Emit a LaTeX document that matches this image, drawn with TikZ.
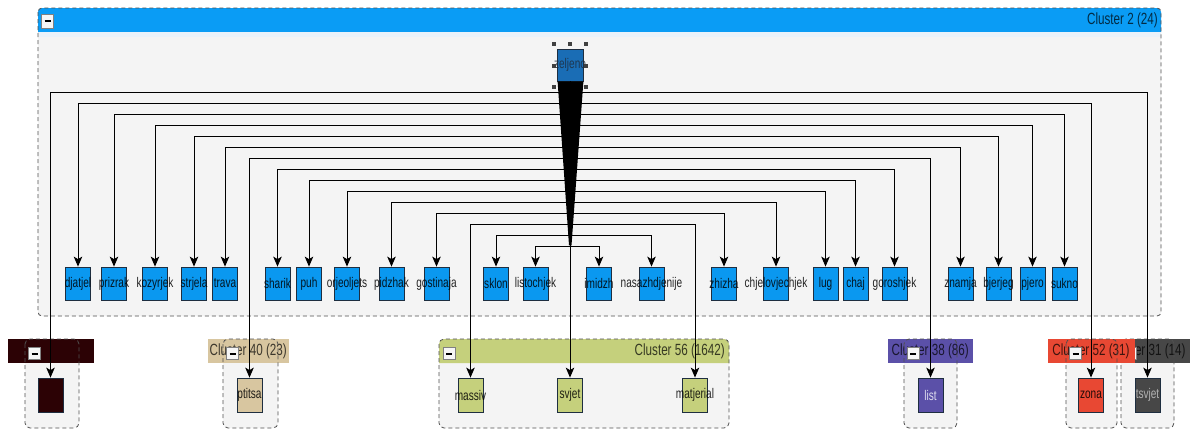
\documentclass[tikz,border=0pt]{standalone}
\usepackage{fontspec}
\setmainfont{Liberation Sans}
\newfontfamily\narrowfont[FakeStretch=0.72]{Liberation Sans}
\usetikzlibrary{arrows.meta,calc}
\definecolor{nodeblue}{HTML}{0A98F0}
\definecolor{selblue}{HTML}{1A6DB5}
\definecolor{headblue}{HTML}{0A9CF5}
\definecolor{paleband}{HTML}{EAF2FA}
\definecolor{clbg}{HTML}{F4F4F4}
\definecolor{clborder}{HTML}{505050}
\definecolor{nborder}{HTML}{1E2E40}
\definecolor{maroon}{HTML}{2C0205}
\definecolor{tan}{HTML}{D8C6A0}
\definecolor{olive}{HTML}{C5D07C}
\definecolor{purp}{HTML}{5B50A8}
\definecolor{redc}{HTML}{E84833}
\definecolor{darkg}{HTML}{474747}
\tikzset{
  boxnode/.style={draw=nborder, line width=0.8pt, minimum width=25pt, minimum height=33pt, inner sep=0pt, fill=nodeblue},
  lbl/.style={font=\narrowfont\fontsize{14}{14}\selectfont, text=black, text opacity=0.85, inner sep=0pt},
  ttl/.style={font=\narrowfont\fontsize{16.2}{16.2}\selectfont, text=black, text opacity=0.72, inner sep=0pt},
  hdr/.style={minimum height=24pt, inner sep=0pt, font=\narrowfont\fontsize{16.2}{16.2}\selectfont, text=black, text opacity=0.72},
  clbox/.style={draw=clborder, line width=0.8pt, dash pattern=on 4pt off 3pt, rounded corners=5pt},
  btn/.style={draw=gray, fill=white!93!gray, line width=0.6pt, minimum width=12pt, minimum height=12pt, inner sep=0pt},
  edge/.style={draw=black, line width=1pt, -{Stealth[length=10pt,width=8.5pt,inset=2.5pt]}},
  handle/.style={fill=black!75}
}
\newcommand{\minusbar}{\rule{6pt}{2pt}}
\begin{document}
\begin{tikzpicture}[x=1pt,y=-1pt]
\useasboundingbox[fill=white] (0,0) rectangle (1199,429);

% ---------- main cluster 2 ----------
\fill[clbg, rounded corners=4pt] (38,8) rectangle (1161,316);
\fill[headblue] (38,32) [rounded corners=4pt] -- (38,8) -- (1161,8) [sharp corners] -- (1161,32) -- cycle;
\fill[paleband] (38.5,32) rectangle (1160.5,37);
\draw[clbox, rounded corners=4pt] (38,8) rectangle (1161,316);
\node[ttl, anchor=east] (t2) at (1158,20) {Cluster 2 (24)};
\node[btn, minimum height=14pt] (b2) at (47.5,21) {\minusbar};

% ---------- bottom clusters ----------
% cluster (maroon)
\fill[clbg, rounded corners=5pt] (25,339) rectangle (79,428);
\node[hdr, fill=maroon, minimum width=86pt] (h1) at (51,351) {};
\draw[clbox] (25,339) rectangle (79,428);
\node[btn] (b1) at (34.5,353.5) {\minusbar};

% cluster 40
\fill[clbg, rounded corners=5pt] (223,339) rectangle (278,428);
\node[hdr, fill=tan, minimum width=81pt] (h40) at (248.2,351) {Cluster 40 (23)};
\draw[clbox] (223,339) rectangle (278,428);
\node[btn] (b40) at (232.7,353.5) {\minusbar};

% cluster 56
\fill[clbg, rounded corners=5pt] (439,339) rectangle (729,428);
\fill[olive] (439,363) [rounded corners=5pt] -- (439,339) -- (729,339) [sharp corners] -- (729,363) -- cycle;
\node[ttl, anchor=east] (t56) at (725,351) {Cluster 56 (1642)};
\draw[clbox] (439,339) rectangle (729,428);
\node[btn] (b56) at (449.3,353.5) {\minusbar};

% cluster 38
\fill[clbg, rounded corners=5pt] (904,339) rectangle (957,428);
\node[hdr, fill=purp, minimum width=85pt] (h38) at (930.2,351) {Cluster 38 (86)};
\draw[clbox] (904,339) rectangle (957,428);
\node[btn] (b38) at (913,353.5) {\minusbar};

% cluster 31
\fill[clbg, rounded corners=5pt] (1121,339) rectangle (1174,428);
\node[hdr, fill=darkg, minimum width=85pt] (h31) at (1147,351) {Cluster 31 (14)};
\draw[clbox] (1121,339) rectangle (1174,428);
\node[btn] (b31) at (1130.5,353.5) {\minusbar};

% cluster 52
\fill[clbg, rounded corners=5pt] (1066,339) rectangle (1117,428);
\node[hdr, fill=redc, minimum width=87pt] (h52) at (1091,351) {Cluster 52 (31)};
\draw[clbox] (1066,339) rectangle (1117,428);
\node[btn] (b52) at (1075.5,353.5) {\minusbar};

% ---------- nodes of cluster 2 ----------
\foreach \nm/\xx in {djatjel/78, prizrak/114, kozyrjek/155, strjela/194, trava/225,
  sharik/277.5, puh/309, orjeoljets/347, pidzhak/391.5, gostinaja/436.5,
  sklon/496, listochjek/535.5, imidzh/599, nasazhdjenije/651.5, zhizha/724,
  chjelovjechjek/776, lug/825.5, chaj/855.5, goroshjek/894.5,
  znamja/960.5, bjerjeg/998.5, pjero/1032.5, sukno/1064.5}{
  \node[boxnode, label={[lbl]center:\nm}] (\nm) at (\xx,283.5) {};
}

% ---------- nodes of bottom clusters ----------
\node[boxnode, minimum height=34pt, fill=maroon] (n1) at (50.5,395) {};
\node[boxnode, minimum height=34pt, fill=tan, label={[lbl]center:ptitsa}] (ptitsa) at (249.5,395) {};
\node[boxnode, minimum height=34pt, fill=olive, label={[lbl]center:massiv}] (massiv) at (470.5,395) {};
\node[boxnode, minimum height=34pt, fill=olive, label={[lbl]center:svjet}] (svjet) at (570,395) {};
\node[boxnode, minimum height=34pt, fill=olive, label={[lbl]center:matjerial}] (matjerial) at (695,395) {};
\node[boxnode, minimum height=34pt, fill=purp, label={[lbl, text=white!80!purp, text opacity=1]center:list}] (list) at (930.5,395) {};
\node[boxnode, minimum height=34pt, fill=redc, label={[lbl]center:zona}] (zona) at (1091,395) {};
\node[boxnode, minimum height=34pt, fill=darkg, label={[lbl, text=black!30, text opacity=1]center:tsvjet}] (tsvjet) at (1147.5,395) {};

% ---------- source node ----------
\node[boxnode, minimum width=26pt, minimum height=32pt, fill=selblue, label={[lbl, text=nborder]center:zeljeno}] (z) at (570,65) {};

% ---------- edges ----------
\draw[edge] (z.south) -- ++(0,11) -| (n1.north);
\draw[edge] (z.south) -- ++(0,11) -| (tsvjet.north);
\draw[edge] (z.south) -- ++(0,22) -| (djatjel.north);
\draw[edge] (z.south) -- ++(0,22) -| (zona.north);
\draw[edge] (z.south) -- ++(0,33) -| (prizrak.north);
\draw[edge] (z.south) -- ++(0,33) -| (sukno.north);
\draw[edge] (z.south) -- ++(0,44) -| (kozyrjek.north);
\draw[edge] (z.south) -- ++(0,44) -| (pjero.north);
\draw[edge] (z.south) -- ++(0,55) -| (strjela.north);
\draw[edge] (z.south) -- ++(0,55) -| (bjerjeg.north);
\draw[edge] (z.south) -- ++(0,66) -| (trava.north);
\draw[edge] (z.south) -- ++(0,66) -| (znamja.north);
\draw[edge] (z.south) -- ++(0,77) -| (ptitsa.north);
\draw[edge] (z.south) -- ++(0,77) -| (list.north);
\draw[edge] (z.south) -- ++(0,88) -| (sharik.north);
\draw[edge] (z.south) -- ++(0,88) -| (goroshjek.north);
\draw[edge] (z.south) -- ++(0,99) -| (puh.north);
\draw[edge] (z.south) -- ++(0,99) -| (chaj.north);
\draw[edge] (z.south) -- ++(0,110) -| (orjeoljets.north);
\draw[edge] (z.south) -- ++(0,110) -| (lug.north);
\draw[edge] (z.south) -- ++(0,121) -| (pidzhak.north);
\draw[edge] (z.south) -- ++(0,121) -| (chjelovjechjek.north);
\draw[edge] (z.south) -- ++(0,132) -| (gostinaja.north);
\draw[edge] (z.south) -- ++(0,132) -| (zhizha.north);
\draw[edge] (z.south) -- ++(0,143) -| (massiv.north);
\draw[edge] (z.south) -- ++(0,143) -| (matjerial.north);
\draw[edge] (z.south) -- ++(0,154) -| (sklon.north);
\draw[edge] (z.south) -- ++(0,154) -| (nasazhdjenije.north);
\draw[edge] (z.south) -- ++(0,165) -| (listochjek.north);
\draw[edge] (z.south) -- ++(0,165) -| (imidzh.north);
\draw[edge] (z.south) -- (svjet.north);

% bundle wedge under the source
\fill[black] ($(z.south west)+(1,0)$) -- ($(z.south east)+(0,0)$) -- ($(z.south)+(1.5,164)$) -- ($(z.south)+(-1,164)$) -- cycle;

% selection handles
\foreach \hx/\hy in {554/44, 570/44, 586/44, 554/66, 586/66, 554/87, 586/87}{
  \fill[handle] (\hx-2,\hy-2) rectangle (\hx+2,\hy+2);
}
\end{tikzpicture}
\end{document}
